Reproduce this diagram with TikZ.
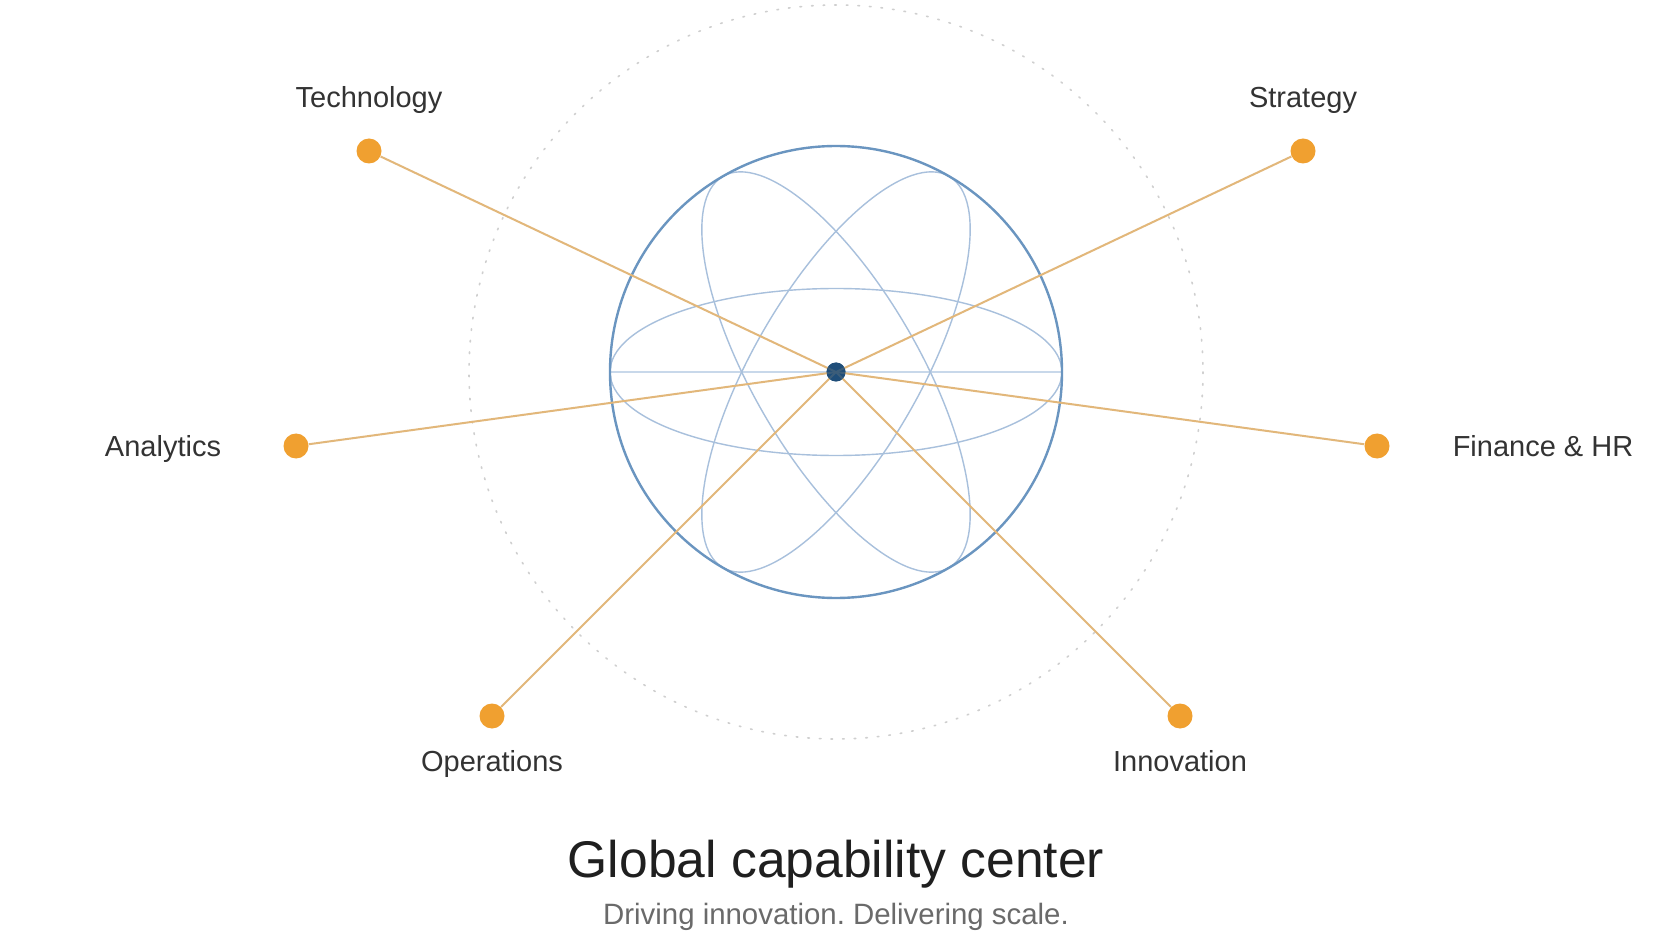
\documentclass[tikz,border=0pt]{standalone}
\usepackage{fontspec}
\setmainfont{Liberation Sans}
\frenchspacing
\definecolor{dotorange}{HTML}{F0A030}
\definecolor{lineorange}{HTML}{E2B77A}
\definecolor{globeblue}{HTML}{6A95C0}
\definecolor{orbitblue}{HTML}{A8C0DC}
\definecolor{equator}{HTML}{C8D8EA}
\definecolor{hubblue}{HTML}{1F4E79}
\definecolor{labelgray}{HTML}{333333}
\definecolor{subgray}{HTML}{6A6A6A}
\definecolor{ringgray}{HTML}{CFCFCF}
\begin{document}
\begin{tikzpicture}[x=0.5pt,y=-0.5pt,
  capdot/.style={circle,fill=dotorange,inner sep=0pt,minimum size=12.5pt},
  hub/.style={circle,fill=hubblue,inner sep=0pt,minimum size=9.5pt},
  spoke/.style={draw=lineorange,line width=1pt},
  caplabel/.style={text=labelgray,font=\fontsize{14.5}{17}\selectfont,inner sep=0pt,text height=10.4pt,text depth=0pt},
  orbit/.style={draw=orbitblue,line width=0.7pt}]
\useasboundingbox[fill=white] (0,0) rectangle (1672,941);
% outer dotted ring
\draw[ringgray,line width=0.8pt,dash pattern=on 0.8pt off 5pt,line cap=round] (836,372) circle[radius=367];
% globe
\draw[equator,line width=1pt] (610,372) -- (1062,372);
\draw[orbit] (836,372) ellipse[x radius=226,y radius=83.5];
\draw[orbit,rotate around={60:(836,372)}] (836,372) ellipse[x radius=226,y radius=83.5];
\draw[orbit,rotate around={-60:(836,372)}] (836,372) ellipse[x radius=226,y radius=83.5];
\draw[globeblue,line width=1.2pt] (836,372) circle[radius=226];
% nodes
\node[hub] (hub) at (836,372) {};
\node[capdot] (tech) at (369,151) {};
\node[capdot] (strat) at (1303,151) {};
\node[capdot] (anal) at (296,446) {};
\node[capdot] (fin) at (1377,446) {};
\node[capdot] (ops) at (492,716) {};
\node[capdot] (inno) at (1180,716) {};
% spokes
\foreach \n in {tech,strat,anal,fin,ops,inno}
  \draw[spoke] (hub.center) -- (\n);
\node[hub,opacity=0.85] at (hub) {};
% labels
\node[caplabel] (ltech) at (369,97) {Technology};
\node[caplabel] (lstrat) at (1303,97) {Strategy};
\node[caplabel] (lanal) at (163,446) {Analytics};
\node[caplabel] (lfin) at (1543,446) {Finance \& HR};
\node[caplabel] (lops) at (492,761) {Operations};
\node[caplabel] (linno) at (1180,761) {Innovation};
\node[text=black!88,font=\fontsize{25.8}{30}\selectfont,inner sep=0pt,text height=18.5pt,text depth=0pt] (title) at (836,859) {Global capability center};
\node[text=subgray,font=\fontsize{14.7}{17}\selectfont,inner sep=0pt,text height=10.5pt,text depth=0pt] (sub) at (836,914) {Driving innovation. Delivering scale.};
\end{tikzpicture}
\end{document}
